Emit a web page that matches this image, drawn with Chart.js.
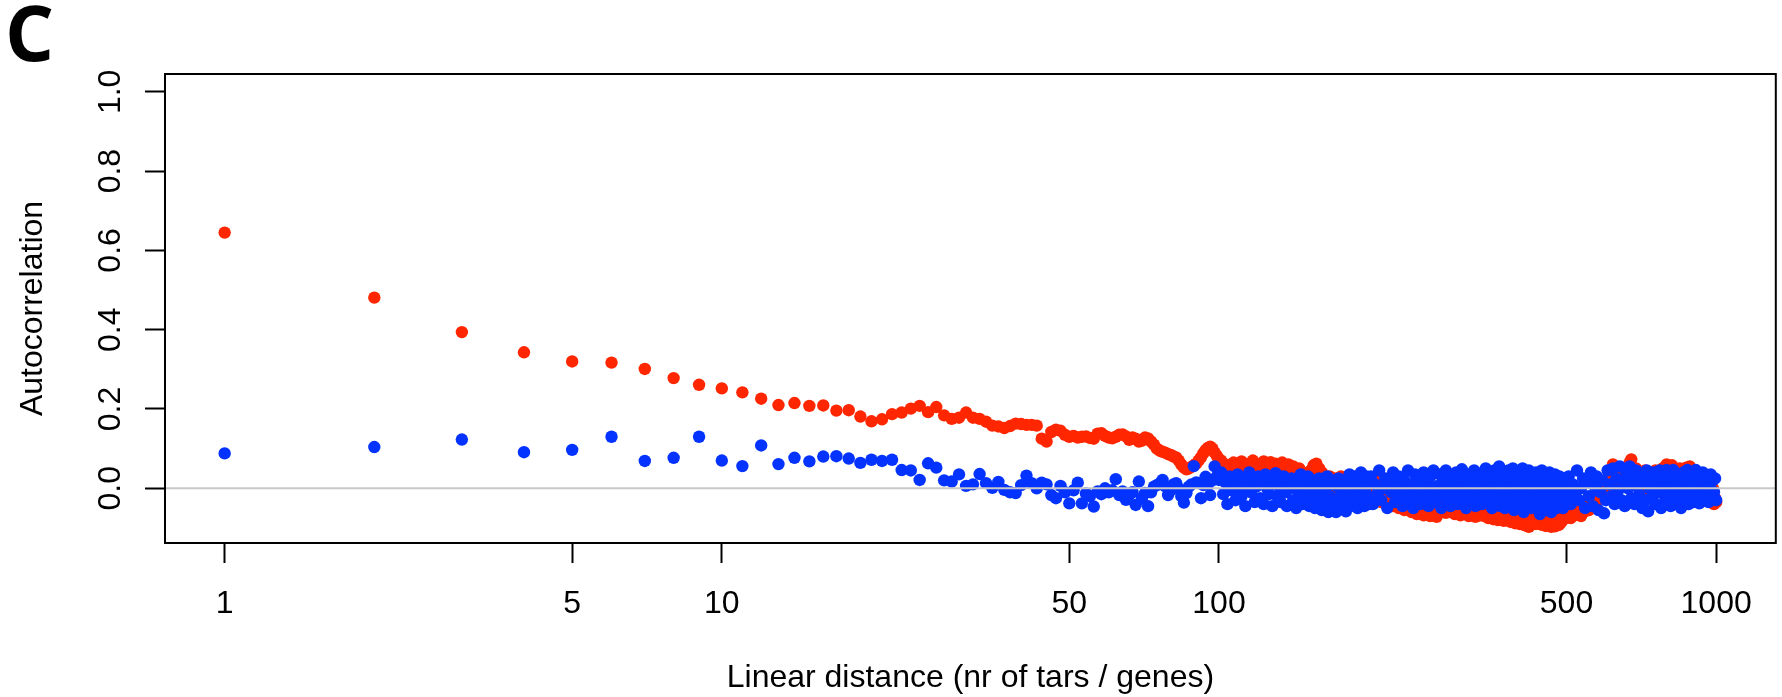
<!DOCTYPE html>
<html>
<head>
<meta charset="utf-8">
<script src="https://cdn.jsdelivr.net/npm/chart.js@4.4.1/dist/chart.umd.min.js"></script>
<style>
  html, body { margin: 0; padding: 0; background: #ffffff; }
  #wrap { width: 1782px; height: 697px; }
</style>
</head>
<body>
<div id="wrap"><canvas id="acf" width="1782" height="697"></canvas></div>
<script>
// lags (nr of tars / genes) - the dense tail is sampled sparser
function lagRange(from, to, step) {
    const out = [];
    for (let v = from; v <= to; v += step) out.push(v);
    return out;
}
const lagsNear = lagRange(1, 100, 1);
const lagsMid = lagRange(101, 200, 1);
const lagsFar = lagRange(202, 500, 2);
const lagsEnd = lagRange(505, 1000, 5);

// red series
const redNear = [
    0.645, 0.481, 0.394, 0.343, 0.320, 0.317, 0.301, 0.278, 0.261, 0.252,
    0.242, 0.226, 0.210, 0.215, 0.208, 0.209, 0.196, 0.197, 0.181, 0.169,
    0.174, 0.187, 0.191, 0.201, 0.208, 0.192, 0.205, 0.184, 0.175, 0.178,
    0.191, 0.178, 0.175, 0.168, 0.158, 0.156, 0.152, 0.157, 0.163, 0.162,
    0.160, 0.160, 0.158, 0.125, 0.118, 0.142, 0.148, 0.145, 0.135, 0.130,
    0.132, 0.128, 0.130, 0.131, 0.127, 0.125, 0.138, 0.139, 0.132, 0.128,
    0.126, 0.130, 0.135, 0.136, 0.131, 0.122, 0.128, 0.125, 0.118, 0.120,
    0.128, 0.126, 0.118, 0.110, 0.100, 0.095, 0.092, 0.090, 0.086, 0.084,
    0.080, 0.078, 0.070, 0.060, 0.052, 0.048, 0.050, 0.054, 0.058, 0.062,
    0.070, 0.078, 0.088, 0.096, 0.102, 0.105, 0.100, 0.090, 0.082, 0.072
];
const redMid = [
    0.070, 0.045, 0.060, 0.035, 0.052, 0.040, 0.065, 0.030, 0.055, 0.045,
    0.068, 0.038, 0.058, 0.030, 0.062, 0.048, 0.070, 0.040, 0.055, 0.035,
    0.060, 0.045, 0.068, 0.032, 0.056, 0.042, 0.066, 0.038, 0.050, 0.062,
    0.035, 0.058, 0.045, 0.065, 0.030, 0.052, 0.040, 0.060, 0.028, 0.048,
    0.055, 0.035, 0.045, 0.025, 0.050, 0.030, 0.040, 0.020, 0.038, 0.025,
    0.035, 0.015, 0.045, 0.030, 0.058, 0.040, 0.062, 0.035, 0.050, 0.025,
    0.040, 0.015, 0.030, 0.005, 0.025, 0.010, 0.030, -0.005, 0.020, 0.000,
    0.025, 0.005, 0.018, -0.010, 0.015, 0.030, 0.000, 0.020, -0.010, 0.012,
    0.028, 0.000, 0.018, -0.012, 0.010, 0.022, -0.005, 0.012, -0.020, 0.005,
    -0.010, 0.015, -0.025, 0.000, -0.015, 0.008, -0.030, -0.005, -0.020, -0.035
];
const redFar = [
    0.010, -0.015, 0.020, -0.025, 0.000, -0.035, 0.015, -0.030, -0.010, -0.040,
    -0.020, -0.045, -0.010, -0.035, -0.050, -0.025, -0.045, -0.055, -0.030, -0.050,
    -0.040, -0.060, -0.035, -0.050, -0.065, -0.040, -0.058, -0.045, -0.068, -0.050,
    -0.060, -0.040, -0.070, -0.050, -0.062, -0.045, -0.072, -0.055, -0.040, -0.060,
    -0.050, -0.038, -0.062, -0.045, -0.055, -0.035, -0.058, -0.048, -0.065, -0.040,
    -0.055, -0.045, -0.068, -0.050, -0.060, -0.040, -0.062, -0.052, -0.070, -0.045,
    -0.058, -0.065, -0.048, -0.072, -0.055, -0.062, -0.045, -0.068, -0.058, -0.050,
    -0.070, -0.055, -0.066, -0.075, -0.050, -0.068, -0.060, -0.078, -0.058, -0.070,
    -0.062, -0.080, -0.065, -0.055, -0.075, -0.068, -0.082, -0.060, -0.072, -0.064,
    -0.078, -0.060, -0.085, -0.070, -0.080, -0.065, -0.088, -0.072, -0.082, -0.068,
    -0.090, -0.075, -0.085, -0.070, -0.092, -0.080, -0.088, -0.095, -0.078, -0.097,
    -0.085, -0.092, -0.075, -0.088, -0.070, -0.082, -0.090, -0.072, -0.080, -0.068,
    -0.085, -0.075, -0.092, -0.080, -0.088, -0.070, -0.095, -0.082, -0.090, -0.078,
    -0.094, -0.085, -0.097, -0.080, -0.092, -0.088, -0.096, -0.078, -0.090, -0.085,
    -0.093, -0.080, -0.088, -0.072, -0.082, -0.068, -0.078, -0.065, -0.075, -0.062
];
const redEnd = [
    -0.060, -0.075, -0.050, -0.068, -0.045, -0.062, -0.070, -0.040, -0.058, -0.035,
    -0.055, -0.030, -0.045, -0.020, -0.035, -0.005, -0.025, 0.010, -0.015, 0.020,
    0.000, 0.040, 0.015, 0.060, 0.030, 0.005, 0.045, 0.020, 0.035, 0.050,
    0.010, 0.040, 0.055, 0.065, 0.073, 0.040, 0.020, 0.050, 0.030, 0.010,
    0.035, 0.000, 0.025, 0.045, 0.010, -0.010, 0.030, 0.015, 0.040, 0.005,
    0.045, 0.020, -0.005, 0.035, 0.015, 0.050, 0.025, 0.040, 0.060, 0.030,
    0.050, 0.010, 0.058, 0.035, 0.020, -0.005, 0.040, 0.025, 0.050, 0.000,
    0.020, -0.010, 0.035, 0.052, 0.015, 0.040, 0.055, 0.025, 0.005, 0.030,
    0.045, 0.010, 0.030, -0.005, 0.020, 0.000, -0.015, 0.025, -0.010, -0.025,
    0.005, -0.030, -0.010, 0.015, -0.035, -0.020, 0.000, -0.040, -0.025, -0.035
];

// blue series
const blueNear = [
    0.088, 0.104, 0.123, 0.091, 0.097, 0.130, 0.069, 0.077, 0.130, 0.070,
    0.056, 0.108, 0.061, 0.077, 0.068, 0.080, 0.081, 0.075, 0.064, 0.072,
    0.069, 0.072, 0.046, 0.045, 0.021, 0.063, 0.052, 0.020, 0.017, 0.035,
    0.006, 0.010, 0.036, 0.013, 0.001, 0.016, -0.004, -0.010, -0.012, 0.008,
    0.032, 0.013, 0.000, 0.014, 0.010, -0.017, -0.025, 0.006, -0.010, -0.038,
    -0.005, 0.014, -0.038, -0.013, -0.020, -0.046, -0.008, -0.015, 0.000, -0.010,
    -0.005, 0.023, -0.017, -0.008, -0.029, -0.017, -0.010, -0.042, 0.017, -0.025,
    -0.012, -0.045, -0.010, 0.004, 0.008, 0.012, 0.021, 0.005, -0.017, -0.005,
    0.010, 0.013, 0.000, -0.020, -0.036, -0.012, 0.004, 0.010, 0.056, 0.015,
    0.013, -0.025, 0.008, 0.029, 0.010, -0.017, 0.020, 0.055, 0.030, 0.021
];
const blueMid = [
    0.040, -0.015, 0.015, -0.040, 0.030, -0.005, 0.020, -0.030, 0.035, 0.000,
    -0.020, 0.025, -0.045, 0.010, 0.040, -0.010, 0.020, -0.035, 0.005, 0.030,
    -0.025, 0.015, -0.040, 0.035, 0.000, -0.015, 0.025, -0.045, 0.010, 0.038,
    -0.020, 0.005, -0.035, 0.020, 0.030, -0.010, -0.045, 0.015, 0.000, 0.025,
    -0.030, 0.010, -0.050, 0.020, -0.015, 0.035, -0.040, 0.000, 0.015, -0.025,
    0.030, -0.045, 0.005, -0.020, 0.020, -0.050, 0.010, -0.030, 0.025, -0.010,
    -0.055, 0.015, -0.035, 0.000, 0.030, -0.060, -0.020, 0.010, -0.045, 0.020,
    -0.030, -0.060, 0.005, 0.025, -0.050, -0.015, 0.015, -0.040, 0.000, -0.058,
    0.020, -0.025, 0.035, -0.045, 0.005, -0.015, 0.030, -0.035, 0.010, -0.050,
    0.025, -0.005, 0.040, -0.030, 0.015, -0.045, 0.000, 0.030, -0.020, -0.040
];
const blueFar = [
    0.030, -0.040, 0.010, -0.015, 0.045, -0.030, 0.000, 0.025, -0.050, 0.015,
    -0.010, 0.040, -0.035, 0.005, 0.030, -0.020, -0.045, 0.020, -0.005, 0.045,
    -0.030, 0.010, -0.050, 0.035, -0.015, 0.020, -0.040, 0.000, 0.040, -0.025,
    0.015, -0.045, 0.030, -0.010, 0.045, -0.035, 0.005, -0.020, 0.035, -0.050,
    0.020, -0.005, 0.045, -0.030, 0.010, -0.045, 0.030, -0.015, 0.000, 0.040,
    -0.040, 0.015, -0.025, 0.048, -0.010, 0.025, -0.050, 0.005, 0.035, -0.030,
    0.020, -0.015, 0.045, -0.045, 0.000, 0.030, -0.025, 0.010, -0.040, 0.040,
    -0.005, 0.050, -0.035, 0.015, -0.020, 0.035, -0.050, 0.000, 0.045, -0.030,
    0.020, -0.010, 0.055, -0.045, 0.010, 0.035, -0.025, -0.050, 0.025, 0.000,
    0.045, -0.035, 0.015, -0.015, 0.050, -0.055, 0.030, 0.005, -0.030, 0.040,
    -0.045, 0.020, -0.010, 0.050, -0.060, 0.030, -0.020, 0.010, -0.040, 0.045,
    0.000, -0.050, 0.035, -0.025, 0.015, -0.045, 0.040, -0.005, -0.035, 0.025,
    -0.065, 0.010, 0.045, -0.020, -0.045, 0.030, 0.000, -0.055, 0.020, -0.030,
    0.040, -0.015, -0.060, 0.025, -0.040, 0.010, 0.035, -0.025, -0.050, 0.015,
    -0.005, 0.030, -0.040, 0.017, -0.020, -0.050, 0.010, -0.030, 0.025, -0.010
];
const blueEnd = [
    0.030, -0.040, 0.010, -0.015, 0.045, -0.030, 0.000, 0.025, -0.050, 0.015,
    -0.020, 0.040, -0.045, 0.005, 0.030, -0.055, -0.010, 0.020, -0.063, -0.030,
    0.045, 0.010, -0.020, 0.050, -0.040, 0.025, -0.005, 0.055, -0.030, 0.015,
    -0.045, 0.040, 0.000, 0.055, -0.025, 0.020, -0.040, 0.045, 0.005, -0.015,
    0.035, -0.050, 0.015, -0.030, 0.045, -0.058, 0.000, 0.030, -0.020, 0.040,
    -0.040, 0.010, -0.010, 0.045, -0.050, 0.025, 0.000, -0.030, 0.046, -0.015,
    0.030, -0.045, 0.015, 0.046, -0.025, 0.005, -0.040, 0.035, -0.010, -0.050,
    0.020, 0.040, -0.030, 0.000, 0.046, -0.040, 0.015, -0.015, 0.035, -0.035,
    0.010, 0.046, -0.025, 0.020, -0.038, 0.035, -0.005, 0.040, -0.030, 0.015,
    -0.020, 0.030, -0.035, 0.005, 0.035, -0.025, 0.020, -0.010, 0.025, -0.030
];

const xTicks = [1, 5, 10, 50, 100, 500, 1000];
const yTicks = [0, 0.2, 0.4, 0.6, 0.8, 1.0];
const yTickLabels = ["0.0", "0.2", "0.4", "0.6", "0.8", "1.0"];

const RED = "#ff2600";
const BLUE = "#0433ff";
const FONT = '"Liberation Sans", Arial, Helvetica, sans-serif';

// pair lags with values
function toPoints(lags, values) {
    return lags.map((lag, i) => ({ x: lag, y: values[i] }));
}
const redPoints = [].concat(
    toPoints(lagsNear, redNear), toPoints(lagsMid, redMid),
    toPoints(lagsFar, redFar), toPoints(lagsEnd, redEnd));
const bluePoints = [].concat(
    toPoints(lagsNear, blueNear), toPoints(lagsMid, blueMid),
    toPoints(lagsFar, blueFar), toPoints(lagsEnd, blueEnd));

// box, zero line, rotated y labels and the panel letter (R base graphics look)
const decorPlugin = {
    id: "decor",
    afterDatasetsDraw(chart) {
        const { ctx, chartArea, scales } = chart;
        const y0 = scales.y.getPixelForValue(0);
        ctx.save();
        ctx.strokeStyle = "#c8c8c8";
        ctx.lineWidth = 2;
        ctx.beginPath();
        ctx.moveTo(chartArea.left, y0);
        ctx.lineTo(chartArea.right, y0);
        ctx.stroke();
        ctx.restore();
    },
    afterDraw(chart) {
        const { ctx, chartArea, scales } = chart;
        ctx.save();
        ctx.strokeStyle = "#000";
        ctx.lineWidth = 2;
        ctx.strokeRect(chartArea.left, chartArea.top,
            chartArea.right - chartArea.left, chartArea.bottom - chartArea.top);

        ctx.fillStyle = "#000";
        ctx.font = "32px " + FONT;
        ctx.textAlign = "center";
        ctx.textBaseline = "alphabetic";
        yTicks.forEach((v, i) => {
            const py = scales.y.getPixelForValue(v);
            ctx.save();
            ctx.translate(120, py);
            ctx.rotate(-Math.PI / 2);
            ctx.fillText(yTickLabels[i], 0, 0);
            ctx.restore();
        });

        ctx.save();
        ctx.translate(42, (chartArea.top + chartArea.bottom) / 2);
        ctx.rotate(-Math.PI / 2);
        ctx.fillText("Autocorrelation", 0, 0);
        ctx.restore();

        ctx.textAlign = "left";
        ctx.font = 'bold 77px "Open Sans", sans-serif';
        ctx.fillText("C", 5, 61);
        ctx.restore();
    }
};

Chart.defaults.font.family = FONT;
Chart.defaults.color = "#000";

new Chart(document.getElementById("acf"), {
    type: "scatter",
    data: {
        datasets: [
            {
                label: "blue",
                data: bluePoints,
                backgroundColor: BLUE,
                pointRadius: 6.2,
                pointBorderWidth: 0,
                order: 1
            },
            {
                label: "red",
                data: redPoints,
                backgroundColor: RED,
                pointRadius: 6.2,
                pointBorderWidth: 0,
                order: 2
            }
        ]
    },
    options: {
        responsive: false,
        animation: false,
        events: [],
        layout: { padding: { top: 74, right: 3, left: 0, bottom: 0 } },
        plugins: {
            legend: { display: false },
            tooltip: { enabled: false }
        },
        scales: {
            x: {
                type: "logarithmic",
                position: "bottom",
                min: Math.pow(10, -0.12),
                max: Math.pow(10, 3.12),
                afterBuildTicks: (scale) => {
                    scale.ticks = xTicks.map((v) => ({ value: v }));
                },
                afterFit: (scale) => { scale.height = 154; },
                border: { display: false },
                grid: {
                    drawOnChartArea: false,
                    drawTicks: true,
                    tickLength: 20,
                    tickWidth: 2,
                    tickColor: "#000"
                },
                ticks: {
                    autoSkip: false,
                    maxRotation: 0,
                    padding: 22,
                    font: { size: 32 },
                    callback: (value) => String(value)
                },
                title: {
                    display: true,
                    text: "Linear distance (nr of tars / genes)",
                    font: { size: 32 },
                    padding: { top: 0, bottom: 0 }
                }
            },
            y: {
                type: "linear",
                position: "left",
                min: -0.138,
                max: 1.045,
                afterBuildTicks: (scale) => {
                    scale.ticks = yTicks.map((v) => ({ value: v }));
                },
                afterFit: (scale) => { scale.width = 165; },
                border: { display: false },
                grid: {
                    drawOnChartArea: false,
                    drawTicks: true,
                    tickLength: 20,
                    tickWidth: 2,
                    tickColor: "#000"
                },
                ticks: { display: false }
            }
        }
    },
    plugins: [decorPlugin]
});
</script>
</body>
</html>
